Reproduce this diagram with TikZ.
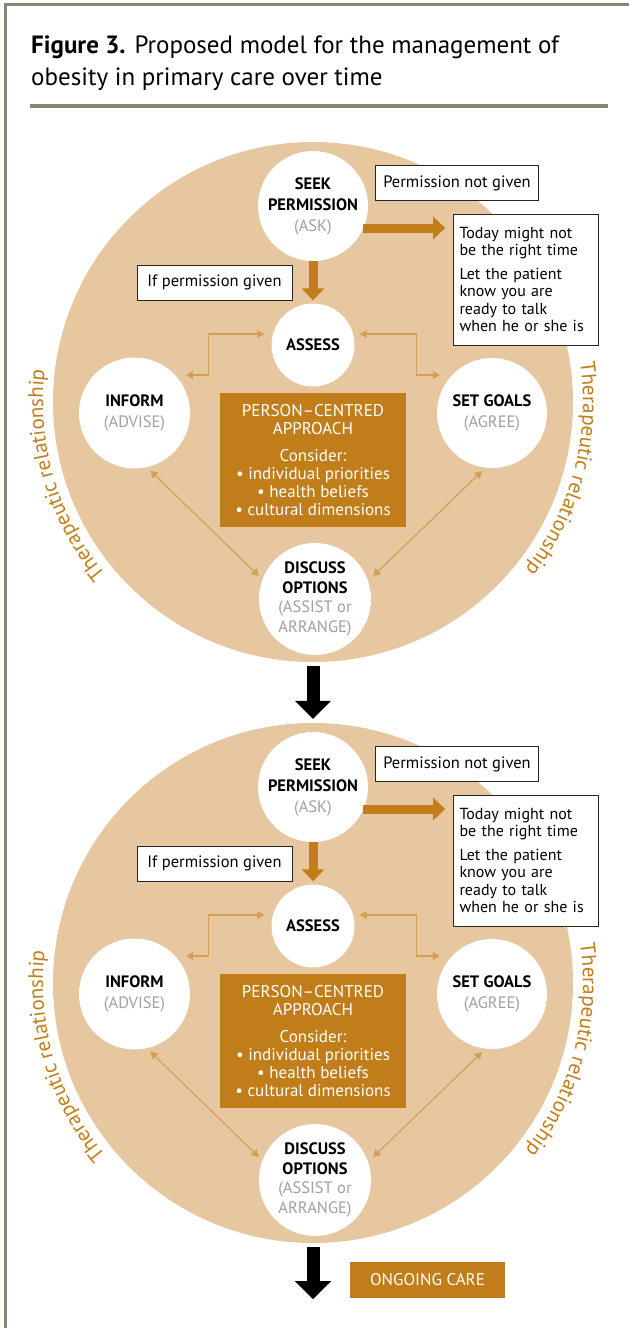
\documentclass[tikz,border=0pt]{standalone}
\usepackage{fontspec}
\setmainfont{PT Sans}
\usetikzlibrary{arrows.meta,decorations.text}

\definecolor{tan}{HTML}{E7C7A0}
\definecolor{ochre}{HTML}{C27D1B}
\definecolor{lightochre}{HTML}{D39F52}
\definecolor{askgray}{HTML}{A0A0A5}
\definecolor{framegray}{HTML}{8C8472}

\newcommand{\askline}[1]{\textcolor{askgray}{\mdseries #1}}

\tikzset{
  ring/.style={circle, fill=tan, minimum size=520pt, inner sep=0pt},
  stage/.style={circle, fill=white, minimum size=#1, inner sep=0pt, align=center,
    font=\fontsize{16.5}{21}\selectfont\bfseries},
  note/.style={draw=black!85, line width=0.8pt, fill=white, inner sep=0pt,
    font=\fontsize{16.5}{17.5}\selectfont},
  ochrebox/.style={fill=ochre, text=white, inner sep=0pt, align=center,
    font=\fontsize{17}{18}\selectfont},
  link/.style={lightochre, line width=1.2pt,
    {Triangle[width=8pt,length=7pt]}-{Triangle[width=8pt,length=7pt]}},
  flow/.style={ochre, line width=9pt, -{Triangle[width=22pt,length=12pt]}},
  bigflow/.style={black, line width=13pt, -{Triangle[width=35pt,length=18pt]}},
  arclabel/.style={decorate, decoration={text along path, text align=center,
    text={|\color{ochre}\fontsize{21}{21}\selectfont|Therapeutic relationship}}}
}

\begin{document}
\begin{tikzpicture}[x=1pt,y=-1pt]
    \useasboundingbox (0,0) rectangle (629,1328);

    % frame and title
    \draw[framegray, line width=3pt] (5,1328) -- (5,4) -- (629,4);
    \node[anchor=north west, inner sep=0pt, align=left,
      font=\fontsize{25}{32}\selectfont] (title) at (31,36)
      {\textbf{Figure 3.} Proposed model for the management of\\obesity in primary care over time};
    \draw[framegray, line width=4pt] (30,106) -- (608,106);

    % the two cycles
    \foreach \k/\dy in {1/0,2/581} {
    \begin{scope}[shift={(0,\dy)}]
        \node[ring] (ring\k) at (313,402) {};
        \path[arclabel] ([shift={(245:270pt)}]ring\k.center) arc[start angle=245, end angle=148, radius=270pt];
        \path[arclabel] ([shift={(32:270pt)}]ring\k.center) arc[start angle=32, end angle=-62, radius=270pt];

        \node[stage=110pt] (seek\k) at (313,206) {SEEK\\PERMISSION\\\askline{(ASK)}};
        \node[stage=83pt] (assess\k) at (313,345) {ASSESS};
        \node[stage=111pt] (inform\k) at (134.5,413) {INFORM\\\askline{(ADVISE)}};
        \node[stage=110pt] (goals\k) at (492,413) {SET GOALS\\\askline{(AGREE)}};
        \node[stage=112pt, font=\fontsize{16.5}{19.5}\selectfont\bfseries] (discuss\k) at (315,599)
          {DISCUSS\\OPTIONS\\\askline{(ASSIST or}\\\askline{ARRANGE)}};

        \node[ochrebox, minimum width=186pt, minimum height=134pt] (person\k) at (313,460)
          {PERSON–CENTRED\\APPROACH\\[9pt]Consider:\\• individual priorities\\• health beliefs\\• cultural dimensions};

        \node[note, minimum width=163pt, minimum height=35pt] (nogo\k) at (457,183) {Permission not given};
        \node[note, minimum width=155pt, minimum height=35pt] (go\k) at (214.5,282.5) {If permission given};
        \node[note, minimum width=145pt, minimum height=131pt, text width=133pt, align=left,
          font=\fontsize{16}{17.5}\selectfont] (today\k) at (526,279.5)
          {Today might not\\be the right time\\[6pt]Let the patient\\know you are\\ready to talk\\when he or she is};

        \draw[flow] ([shift={(-5,22)}]seek\k.east) -- ++(82,0);
        \draw[flow, shorten >=3pt] (seek\k.south) -- (assess\k.north);

        \draw[link] ([shift={(-7,-11)}]assess\k.west) -- ++(-56,0) |- ([shift={(-4,-38)}]inform\k.east);
        \draw[link] ([shift={(5,-11)}]assess\k.east) -- ++(57,0) |- ([shift={(3,-38)}]goals\k.west);
        \draw[link] ([shift={(16,2)}]inform\k.south) -- ([shift={(0,-23)}]discuss\k.west);
        \draw[link] ([shift={(-10,3)}]goals\k.south) -- ([shift={(2,-23)}]discuss\k.east);
    \end{scope}
    }

    % between and after
    \draw[bigflow, shorten <=4pt, shorten >=4pt] (ring1.south) -- (ring2.north);
    \draw[bigflow, shorten <=4pt] (ring2.south) -- ++(0,56);
    \node[ochrebox, minimum width=155pt, minimum height=36pt] (ongoing) at (427.5,1280) {ONGOING CARE};
\end{tikzpicture}
\end{document}
